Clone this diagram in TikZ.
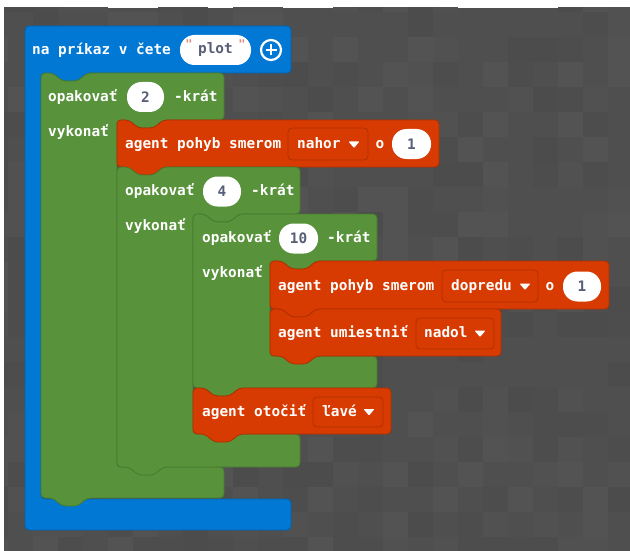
\documentclass[tikz,border=0pt]{standalone}
\usepackage{fontspec}
\newfontfamily\blockfont{DejaVu Sans Mono}
\definecolor{bgc}{HTML}{4F4F4F}
\definecolor{bblue}{HTML}{0078D4}
\definecolor{bblueD}{HTML}{0062B0}
\definecolor{bgreen}{HTML}{58923B}
\definecolor{bgreenD}{HTML}{487A30}
\definecolor{bred}{HTML}{D83B01}
\definecolor{bredD}{HTML}{B02F00}
\definecolor{pilltext}{HTML}{575E75}
\definecolor{quotec}{HTML}{E08878}
\definecolor{tileA}{HTML}{4C4C4C}
\definecolor{tileB}{HTML}{4D4D4D}
\definecolor{tileC}{HTML}{515151}
\definecolor{tileD}{HTML}{535353}
\tikzset{
  blkshape/.style 2 args={fill=#1, draw=#2, line width=0.8pt, rounded corners=4pt},
  lbl/.style={anchor=base west, inner sep=0pt, text=white, font=\blockfont\fontsize{14.4}{16}\selectfont\bfseries},
  pilln/.style={fill=white, rectangle, rounded corners=14.5pt, inner sep=0pt, minimum height=30pt,
     text=pilltext, font=\blockfont\fontsize{14.4}{16}\selectfont\bfseries},
  ddbox/.style={fill=bred, draw=bredD, line width=0.8pt, rectangle, rounded corners=4pt, inner sep=0pt},
  quotemark/.style={inner sep=0pt, text=quotec, font=\blockfont\fontsize{12}{12}\selectfont\bfseries},
}
% statement block: x0,y0,x1,y1,fill,border
\newcommand\stmtblk[6]{%
  \draw[blkshape={#5}{#6}] (#1,#2) -- (#1+12,#2) -- (#1+21,#2+8) -- (#1+37,#2+8) -- (#1+46,#2)
    -- (#3,#2) -- (#3,#4) -- (#1+46,#4) -- (#1+37,#4+8) -- (#1+21,#4+8) -- (#1+12,#4) -- (#1,#4) -- cycle;}
% C block: x0,y0,x1,y1,xi,y2,y3
\newcommand\cblk[7]{%
  \draw[blkshape={bgreen}{bgreenD}] (#1,#2) -- (#1+12,#2) -- (#1+21,#2+8) -- (#1+37,#2+8) -- (#1+46,#2)
    -- (#3,#2) -- (#3,#4) -- (#5+46,#4) -- (#5+37,#4+8) -- (#5+21,#4+8) -- (#5+12,#4) -- (#5,#4)
    -- (#5,#6) -- (#3,#6) -- (#3,#7) -- (#1+46,#7) -- (#1+37,#7+8) -- (#1+21,#7+8) -- (#1+12,#7) -- (#1,#7) -- cycle;}
\newcommand\ddtri[2]{\fill[white, rounded corners=0.8pt] (#1-5.5,#2-3) -- (#1+5.5,#2-3) -- (#1,#2+3.5) -- cycle;}
\begin{document}
\begin{tikzpicture}[x=1pt, y=-1pt]
\useasboundingbox (0,0) rectangle (630,551);
\fill[white] (0,0) rectangle (630,551);
\fill[bgc] (4,8) rectangle (630,551);
% subtle checker tiles
\pgfmathsetseed{4242}
\begin{scope}
\clip (4,8) rectangle (630,551);
\foreach \i in {0,...,25} {
  \foreach \j in {0,...,22} {
    \pgfmathrandominteger{\k}{0}{6}
    \ifcase\k
      \fill[tileA] (8+25*\i-25,12+25*\j-25) rectangle ++(25,25);
    \or
      \fill[tileC] (8+25*\i-25,12+25*\j-25) rectangle ++(25,25);
    \or
    \or
      \fill[tileB] (8+25*\i-25,12+25*\j-25) rectangle ++(25,25);
    \or
      \fill[tileD] (8+25*\i-25,12+25*\j-25) rectangle ++(25,25);
    \or
    \or
    \fi
  }
}
\end{scope}
% blue function block
\draw[blkshape={bblue}{bblueD}] (25,26) -- (291,26) -- (291,73) -- (87,73) -- (78,81) -- (62,81) -- (53,73)
   -- (41,73) -- (41,499) -- (291,499) -- (291,530) -- (25,530) -- cycle;
% green repeat 2
\cblk{41}{73}{224}{120}{117}{467}{498}
% red A
\stmtblk{117}{120}{439}{167}{bred}{bredD}
% green repeat 4
\cblk{117}{167}{300}{214}{193}{434}{467}
% green repeat 10
\cblk{193}{214}{377}{261}{270}{356}{388}
% red B, C, D
\stmtblk{270}{261}{609}{309}{bred}{bredD}
\stmtblk{270}{309}{501}{356}{bred}{bredD}
\stmtblk{193}{388}{391}{434}{bred}{bredD}

% ---- blue header
\node[lbl] (fnlabel) at (32,54.5) {na príkaz v čete};
\node[pilln, minimum width=71pt] (plotpill) at (215.5,50) {plot};
\node[quotemark] (q1) at (189,44) {"};
\node[quotemark] (q2) at (242,44) {"};
\node[circle, draw=white, line width=2.2pt, minimum size=20pt, inner sep=0pt] (plus) at (271,50) {};
\draw[white, line width=2.8pt] (plus.center) ++(-5.5,0) -- ++(11,0);
\draw[white, line width=2.8pt] (plus.center) ++(0,-5.5) -- ++(0,11);

% ---- green repeat 2
\node[lbl] (op1) at (48,101.5) {opakovať};
\node[pilln, minimum width=37pt] (n2) at (145.5,97) {2};
\node[lbl] (kr1) at (174,101.5) {-krát};
\node[lbl] (vy1) at (48,136) {vykonať};

% ---- red A
\node[lbl] (pa) at (125,148.5) {agent pohyb smerom};
\node[ddbox, minimum width=80pt, minimum height=32pt] (dda) at (328,144) {};
\node[lbl] (dda t) at (297,148.5) {nahor};
\ddtri{354}{144.5}
\node[lbl] (oa) at (375.5,148.5) {o};
\node[pilln, minimum width=39pt] (n1a) at (411.5,144) {1};

% ---- green repeat 4
\node[lbl] (op2) at (125,195.5) {opakovať};
\node[pilln, minimum width=38pt] (n4) at (222,191.5) {4};
\node[lbl] (kr2) at (251,195.5) {-krát};
\node[lbl] (vy2) at (125,230) {vykonať};

% ---- green repeat 10
\node[lbl] (op3) at (202,242.5) {opakovať};
\node[pilln, minimum width=39pt] (n10) at (298.5,238.5) {10};
\node[lbl] (kr3) at (327,242.5) {-krát};
\node[lbl] (vy3) at (202,277) {vykonať};

% ---- red B
\node[lbl] (pb) at (278,290) {agent pohyb smerom};
\node[ddbox, minimum width=96pt, minimum height=32pt] (ddb) at (490,286) {};
\node[lbl] (ddb t) at (451,290) {dopredu};
\ddtri{525}{286.5}
\node[lbl] (ob) at (545.5,290) {o};
\node[pilln, minimum width=38pt] (n1b) at (582,286.5) {1};

% ---- red C
\node[lbl] (pc) at (278,337.5) {agent umiestniť};
\node[ddbox, minimum width=78pt, minimum height=31pt] (ddc) at (455,333.5) {};
\node[lbl] (ddc t) at (424,337.5) {nadol};
\ddtri{480}{333.5}

% ---- red D
\node[lbl] (pd) at (202,416) {agent otočiť};
\node[ddbox, minimum width=70pt, minimum height=30pt] (ddd) at (348,412) {};
\node[lbl] (ddd t) at (322,416) {ľavé};
\ddtri{369}{412}
\end{tikzpicture}
\end{document}
